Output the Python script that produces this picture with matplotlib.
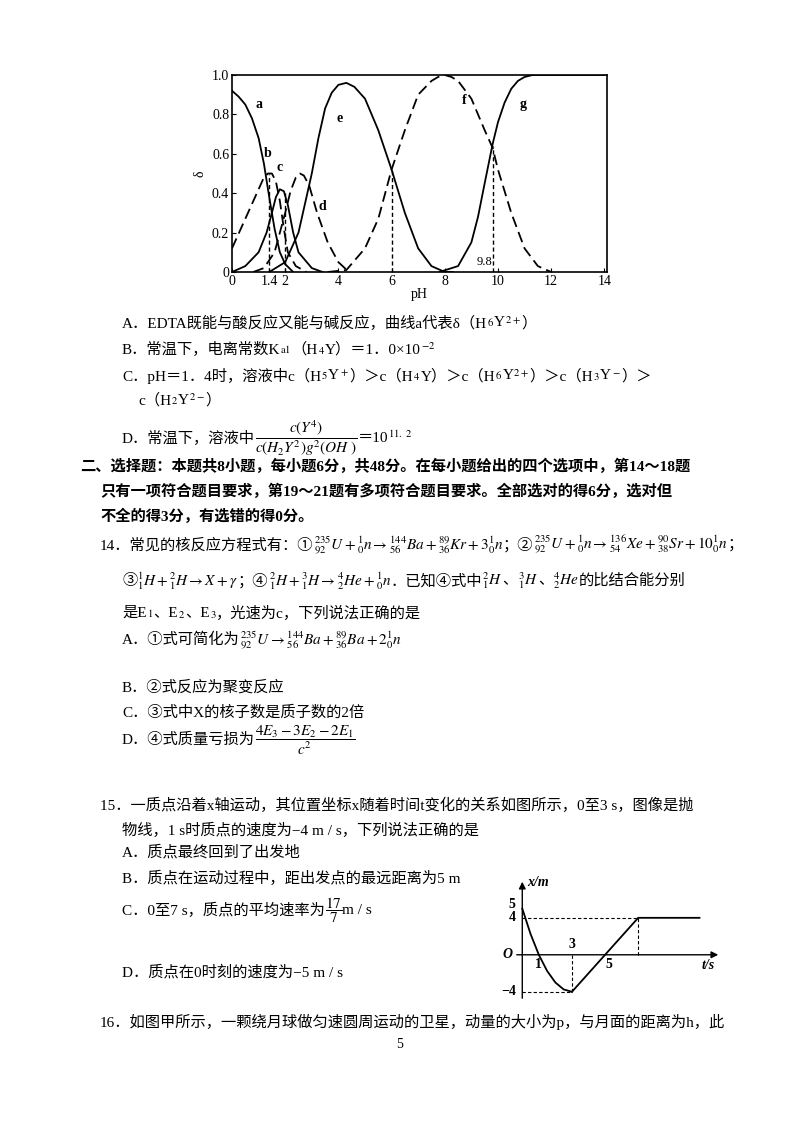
import matplotlib
matplotlib.use("Agg")
import matplotlib.pyplot as plt

plt.rcParams['font.family'] = ['Liberation Serif', 'Noto Sans CJK SC', 'DejaVu Sans']
plt.rcParams['mathtext.fontset'] = 'stix'

# ---- EDTA distribution data
a_x = [0, 0.25, 0.5, 0.75, 1, 1.2, 1.4, 1.6, 1.8, 2.0, 2.3]
a_y = [0.92, 0.89, 0.85, 0.78, 0.68, 0.55, 0.38, 0.22, 0.1, 0.04, 0.0]
b_x = [0, 0.5, 1, 1.2, 1.35, 1.5, 1.65, 1.8, 1.95, 2.1, 2.4, 2.8]
b_y = [0.12, 0.27, 0.42, 0.48, 0.5, 0.5, 0.46, 0.36, 0.22, 0.1, 0.03, 0.0]
c_x = [0, 0.5, 1, 1.3, 1.5, 1.65, 1.8, 1.95, 2.1, 2.3, 2.5, 3.0, 3.4]
c_y = [0.0, 0.03, 0.1, 0.2, 0.3, 0.38, 0.42, 0.41, 0.34, 0.2, 0.1, 0.02, 0.0]
d_x = [0.8, 1.2, 1.6, 2.0, 2.2, 2.4, 2.55, 2.7, 2.9, 3.2, 3.6, 4.0, 4.4]
d_y = [0.0, 0.02, 0.1, 0.3, 0.41, 0.48, 0.5, 0.49, 0.44, 0.3, 0.15, 0.05, 0.0]
e_x = [1.4, 2, 2.5, 3, 3.25, 3.5, 3.75, 4, 4.3, 4.6, 5, 5.5, 6, 6.5, 7, 7.5, 8, 8.3]
e_y = [0.0, 0.05, 0.2, 0.5, 0.68, 0.83, 0.91, 0.95, 0.96, 0.94, 0.88, 0.72, 0.52, 0.3, 0.12, 0.03, 0.0, 0.0]
f_x = [3.6, 4.3, 5, 5.5, 6, 6.5, 7, 7.5, 7.75, 8, 8.25, 8.5, 9, 9.5, 9.8, 10, 10.5, 11, 11.5, 12]
f_y = [0.0, 0.01, 0.12, 0.27, 0.52, 0.72, 0.9, 0.97, 0.99, 1.0, 0.99, 0.97, 0.88, 0.72, 0.63, 0.52, 0.3, 0.12, 0.03, 0.0]
g_x = [7.8, 8.5, 9, 9.25, 9.5, 9.8, 10, 10.25, 10.5, 10.75, 11, 11.3, 14]
g_y = [0.0, 0.03, 0.15, 0.28, 0.45, 0.65, 0.76, 0.86, 0.93, 0.97, 0.99, 1.0, 1.0]
vlines_x = [1.4, 2.0, 6.0, 9.8]
vlines_y = [0.5, 0.4, 0.52, 0.64]
labels = ['a', 'b', 'c', 'd', 'e', 'f', 'g']
label_pos = [(1.0, 0.85), (1.35, 0.6), (1.8, 0.53), (3.4, 0.33), (4.05, 0.78), (8.75, 0.87), (10.95, 0.85)]
xticks = [0, 1.4, 2, 4, 6, 8, 10, 12, 14]
xticklabels = ['0', '1.4', '2', '4', '6', '8', '10', '12', '14']
yticks = [0, 0.2, 0.4, 0.6, 0.8, 1.0]
yticklabels = ['0', '0.2', '0.4', '0.6', '0.8', '1.0']

# ---- x-t data
t_par = [0, 0.5, 1, 1.5, 2, 2.5, 3]
x_par = [5, 2.25, 0, -1.75, -3, -3.75, -4]
t_lin = [3, 5, 7, 10.7]
x_lin = [-4, 0, 4, 4]

W, H = 800, 1130
fig = plt.figure(figsize=(8, 11.3), dpi=100)
fig.patch.set_facecolor('white')
renderer = fig.canvas.get_renderer()

ax = fig.add_axes([232/W, 1-272/H, (607-232)/W, (272-75)/H])
ax.set_xlim(0, 14.1); ax.set_ylim(0, 1.0)
for xs, ys, ls in [(a_x, a_y, '-'), (b_x, b_y, (0, (6, 3))), (c_x, c_y, '-'), (d_x, d_y, (0, (6, 3))),
                   (e_x, e_y, '-'), (f_x, f_y, (0, (6, 3))), (g_x, g_y, '-')]:
    ax.plot(xs, ys, color='black', lw=1.3, linestyle=ls)
for vx, vy in zip(vlines_x, vlines_y):
    ax.plot([vx, vx], [0, vy], color='black', lw=1, linestyle=(0, (3, 2)))
for lab, (lx, ly) in zip(labels, label_pos):
    ax.text(lx, ly, lab, fontsize=10, fontweight='bold', ha='center', va='center')
ax.set_xticks(xticks); ax.set_xticklabels(xticklabels, fontsize=10)
ax.set_yticks(yticks); ax.set_yticklabels(yticklabels, fontsize=10)
ax.tick_params(direction='in', length=3, pad=2)
for s in ax.spines.values():
    s.set_linewidth(1.2)
ax.set_xlabel('pH', fontsize=10, labelpad=0)
ax.set_ylabel('δ', fontsize=10, labelpad=4)
ax.text(9.8, 0.02, '9.8', fontsize=9, ha='right', va='bottom')

def T(x, y, s, size=11, **kw):
    parts = s.split('$')
    cx = x
    for i, p in enumerate(parts):
        if not p:
            continue
        txt = ('$' + p + '$') if i % 2 else p
        t = fig.text(cx/W, 1-y/H, txt, fontsize=size, va='center', ha='left', **kw)
        bb = t.get_window_extent(renderer=renderer)
        cx += bb.width

T(122, 323, 'A．EDTA既能与酸反应又能与碱反应，曲线a代表δ（H$_6$Y$^{2+}$）')
T(122, 349, 'B．常温下，电离常数K$_{\\rm a1}$（H$_4$Y）＝1．0×10$^{-2}$')
T(122, 376, 'C．pH＝1．4时，溶液中c（H$_5$Y$^+$）＞c（H$_4$Y）＞c（H$_6$Y$^{2+}$）＞c（H$_3$Y$^-$）＞')
T(138, 400, 'c（H$_2$Y$^{2-}$）')
T(122, 438, 'D．常温下，溶液中$\\dfrac{c\\left(Y^{4}\\right)}{c\\left(H_2Y^{2}\\right)g^2\\left(OH\\ \\right)}$＝10$^{11.\\ 2}$')
T(80, 466, '二、选择题：本题共8小题，每小题6分，共48分。在每小题给出的四个选项中，第14～18题', fontweight='bold')
T(100, 491, '只有一项符合题目要求，第19～21题有多项符合题目要求。全部选对的得6分，选对但', fontweight='bold')
T(100, 516, '不全的得3分，有选错的得0分。', fontweight='bold')
T(100, 545, '14．常见的核反应方程式有：①$^{235}_{92}U+^{1}_{0}n\\rightarrow^{144}_{56}Ba+^{89}_{36}Kr+3^{1}_{0}n$；'
  '②$^{235}_{92}U+^{1}_{0}n\\rightarrow^{136}_{54}Xe+^{90}_{38}Sr+10^{1}_{0}n$；')
T(122, 581, '③$^{1}_{1}H+^{2}_{1}H\\rightarrow X+\\gamma$；④$^{2}_{1}H+^{3}_{1}H\\rightarrow^{4}_{2}He+^{1}_{0}n$．'
  '已知④式中$^{2}_{1}H$、$^{3}_{1}H$、$^{4}_{2}He$的比结合能分别')
T(122, 613, '是E$_1$、E$_2$、E$_3$，光速为c，下列说法正确的是')
T(122, 640, 'A．①式可简化为$^{235}_{92}U\\rightarrow^{144}_{56}Ba+^{89}_{36}Ba+2^{1}_{0}n$')
T(122, 687, 'B．②式反应为聚变反应')
T(122, 712, 'C．③式中X的核子数是质子数的2倍')
T(122, 740, 'D．④式质量亏损为$\\dfrac{4E_3-3E_2-2E_1}{c^2}$')
T(100, 805, '15．一质点沿着x轴运动，其位置坐标x随着时间t变化的关系如图所示，0至3 s，图像是抛')
T(122, 830, '物线，1 s时质点的速度为−4 m / s，下列说法正确的是')
T(122, 852, 'A．质点最终回到了出发地')
T(122, 878, 'B．质点在运动过程中，距出发点的最远距离为5 m')
T(122, 910, 'C．0至7 s，质点的平均速率为$\\dfrac{17}{7}$m / s')
T(122, 972, 'D．质点在0时刻的速度为−5 m / s')
T(100, 1022, '16．如图甲所示，一颗绕月球做匀速圆周运动的卫星，动量的大小为p，与月面的距离为h，此')
fig.text(400/W, 1-1044/H, '5', fontsize=10, ha='center', va='center')

# ---- x-t small chart
ax2 = fig.add_axes([514/W, 1-1001/H, (721-514)/W, (1001-879)/H])
ax2.set_xlim(-0.5, 12); ax2.set_ylim(-5, 8.2)
ax2.axis('off')
ax2.plot(t_par, x_par, color='black', lw=1.3)
ax2.plot(t_lin, x_lin, color='black', lw=1.3)
ax2.annotate('', xy=(12, 0), xytext=(-0.5, 0), arrowprops=dict(arrowstyle='-|>', color='black', lw=1))
ax2.annotate('', xy=(0, 8.2), xytext=(0, -5), arrowprops=dict(arrowstyle='-|>', color='black', lw=1))
ax2.plot([0, 7], [4, 4], color='black', lw=0.8, linestyle=(0, (3, 2)))
ax2.plot([0, 3], [-4, -4], color='black', lw=0.8, linestyle=(0, (3, 2)))
ax2.plot([3, 3], [0, -4], color='black', lw=0.8, linestyle=(0, (3, 2)))
ax2.plot([7, 7], [0, 4], color='black', lw=0.8, linestyle=(0, (3, 2)))
for tx, ty, s in [(-0.4, 5.4, '5'), (-0.4, 4, '4'), (-0.4, -4, '−4')]:
    ax2.text(tx, ty, s, fontsize=10, ha='right', va='center', fontweight='bold')
ax2.text(-0.6, 0, 'O', fontsize=10, ha='right', va='center', style='italic', fontweight='bold')
ax2.text(1.0, -0.4, '1', fontsize=10, ha='center', va='top', fontweight='bold')
ax2.text(3.0, 0.4, '3', fontsize=10, ha='center', va='bottom', fontweight='bold')
ax2.text(5.2, -0.4, '5', fontsize=10, ha='center', va='top', fontweight='bold')
ax2.text(11.2, -0.5, 't/s', fontsize=10, ha='center', va='top', style='italic', fontweight='bold')
ax2.text(0.3, 7.8, 'x/m', fontsize=10, ha='left', va='center', style='italic', fontweight='bold')

fig.savefig('out.png', dpi=100, facecolor='white')
